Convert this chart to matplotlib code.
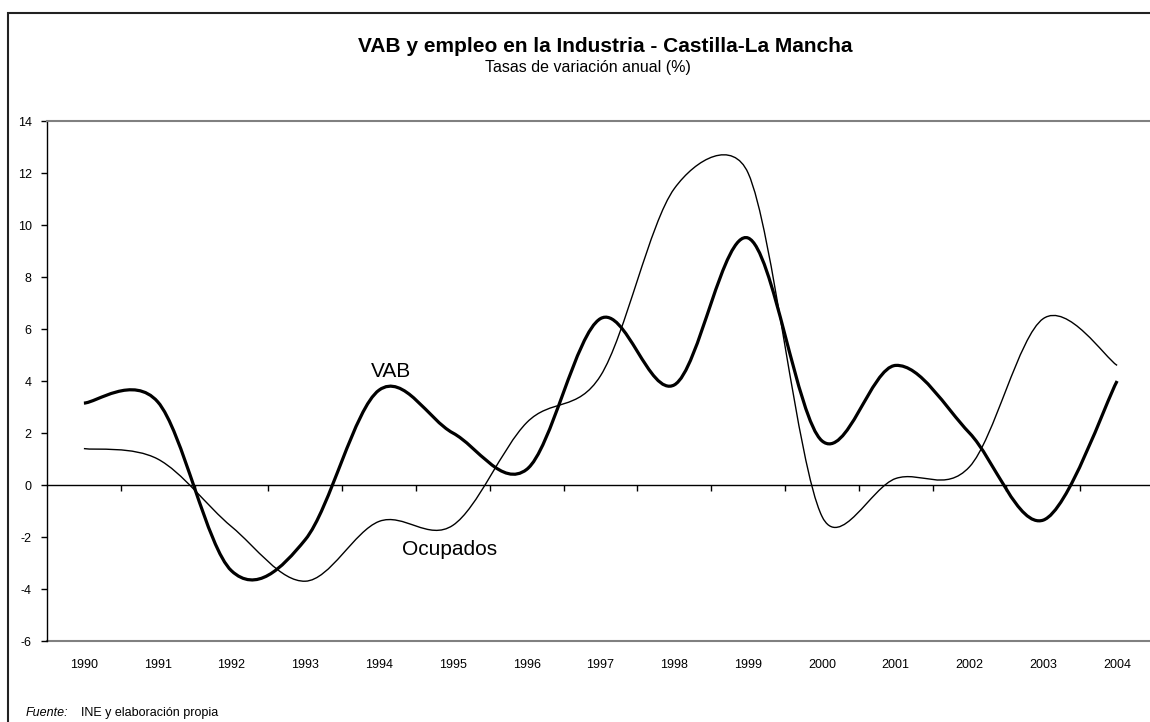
import numpy as np
import matplotlib
matplotlib.use("Agg")
import matplotlib.pyplot as plt
from matplotlib.path import Path
from matplotlib.patches import PathPatch, Rectangle

# ---------------- data ----------------
years = ["1990", "1991", "1992", "1993", "1994", "1995", "1996", "1997",
         "1998", "1999", "2000", "2001", "2002", "2003", "2004"]
vab = [3.15, 3.2, -3.3, -2.1, 3.65, 2.0, 0.6, 6.4, 3.85, 9.5, 1.7, 4.6, 2.0, -1.35, 4.0]
ocupados = [1.4, 1.0, -1.6, -3.7, -1.4, -1.55, 2.4, 4.2, 11.4, 12.0, -1.2, 0.25, 0.7, 6.4, 4.6]

title = "VAB y empleo en la Industria - Castilla-La Mancha"
subtitle = "Tasas de variación anual (%)"

plt.rcParams['font.family'] = ['Liberation Sans', 'DejaVu Sans']
plt.rcParams['axes.unicode_minus'] = False

W, H = 1150, 722
fig = plt.figure(figsize=(W / 100, H / 100), dpi=100)
fig.patch.set_facecolor('white')

ax = fig.add_axes([47 / W, (H - 641) / H, 1107 / W, 520 / H])
x = np.arange(len(years))
ax.set_xlim(-0.5, len(years) - 0.5)
ax.set_ylim(-6, 14)
ax.set_yticks(np.arange(-6, 15, 2))


def excel_smooth(ax, xs, ys, **kw):
    """Excel-like smoothed line: cubic Bezier through the points (Catmull-Rom
    handles with length clamped to half the segment), computed in screen space."""
    pts = ax.transData.transform(np.column_stack([xs, ys]))
    n = len(pts)
    verts = [pts[0]]
    codes = [Path.MOVETO]
    for i in range(n - 1):
        p1, p2 = pts[i], pts[i + 1]
        p0 = pts[i - 1] if i > 0 else p1
        p3 = pts[i + 2] if i + 2 < n else p2
        d12 = np.hypot(*(p2 - p1))
        d02 = np.hypot(*(p2 - p0))
        d13 = np.hypot(*(p3 - p1))
        f0 = min(1 / 6, 0.5 * d12 / d02) if d02 > 0 else 0
        f1 = min(1 / 6, 0.5 * d12 / d13) if d13 > 0 else 0
        verts += [p1 + f0 * (p2 - p0), p2 - f1 * (p3 - p1), p2]
        codes += [Path.CURVE4] * 3
    vdata = ax.transData.inverted().transform(np.array(verts))
    ax.add_patch(PathPatch(Path(vdata, codes), fill=False, **kw))


excel_smooth(ax, x, ocupados, edgecolor='black', lw=1.0, zorder=3)
excel_smooth(ax, x, vab, edgecolor='black', lw=2.3, zorder=4)

# spines
ax.spines['left'].set_color('black')
ax.spines['left'].set_linewidth(1.0)
ax.spines['top'].set_color('#808080')
ax.spines['top'].set_linewidth(1.5)
ax.spines['right'].set_visible(False)
ax.spines['bottom'].set_position(('data', 0))
ax.spines['bottom'].set_color('black')
ax.spines['bottom'].set_linewidth(1.0)

# category axis at zero: tick marks between categories
ax.set_xticks(x)
ax.set_xticks(x[:-1] + 0.5, minor=True)
ax.tick_params(axis='x', which='major', length=0, labelbottom=False)
ax.tick_params(axis='x', which='minor', length=4, width=1, direction='out', color='black')
ax.tick_params(axis='y', direction='out', length=4, width=1, labelsize=9, pad=7, color='black')

# labels at the bottom of the plot area
sec = ax.secondary_xaxis('bottom')
sec.set_xticks(x, years)
sec.tick_params(length=0, pad=13, labelsize=9)
sec.spines['bottom'].set_color('#808080')
sec.spines['bottom'].set_linewidth(1.5)

# series labels
ax.text(4.16, 4.17, "VAB", ha='center', va='baseline', fontsize=15)
ax.text(4.95, -2.69, "Ocupados", ha='center', va='baseline', fontsize=15)

# titles
fig.text(358 / W, 1 - 52.3 / H, title, ha='left', va='baseline',
         fontsize=15, fontweight='bold')
fig.text(587.5 / W, 1 - 71.7 / H, subtitle, ha='center', va='baseline', fontsize=11.5)

# source
t1 = fig.text(26 / W, 1 - 716 / H, "Fuente:", style='italic', fontsize=9, va='baseline')
ax.annotate("INE y elaboración propia", xy=(1, 0), xycoords=t1,
            xytext=(12, 0), textcoords='offset pixels', va='bottom', ha='left',
            fontsize=9, annotation_clip=False)

# outer chart border (extends beyond the visible region on right/bottom)
fig.add_artist(Rectangle((7.5 / W, -0.05), 1.1, 1 - 12.7 / H + 0.05,
                         transform=fig.transFigure, fill=False,
                         edgecolor='#222222', lw=1.5))

fig.savefig("out.png", dpi=100)
